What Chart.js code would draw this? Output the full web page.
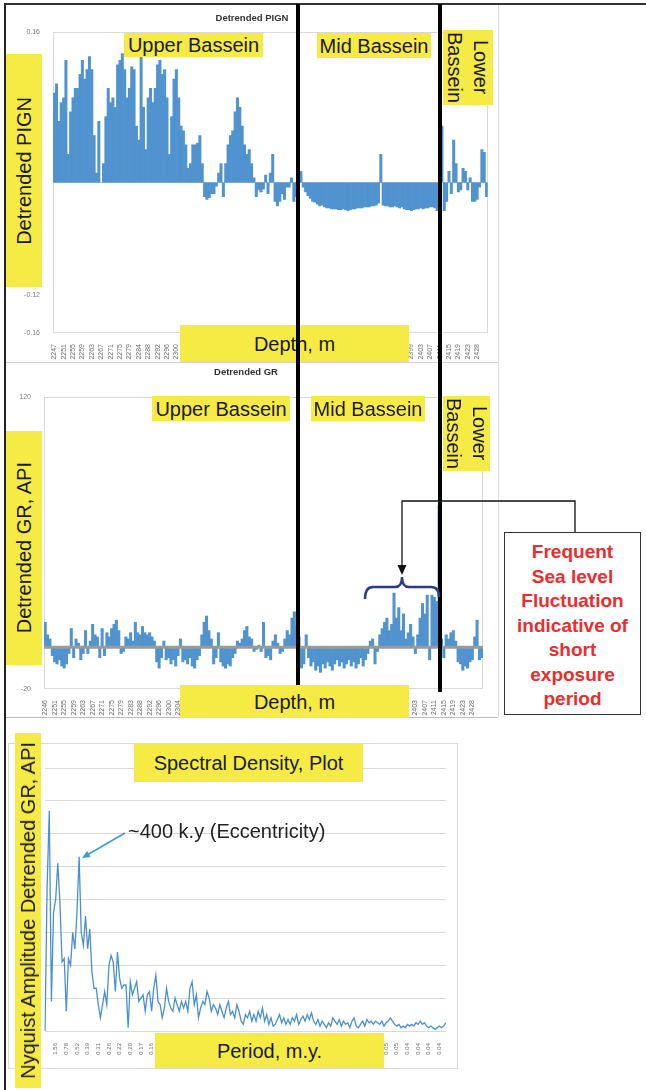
<!DOCTYPE html>
<html>
<head>
<meta charset="utf-8">
<script src="https://cdn.jsdelivr.net/npm/chart.js@4.4.1/dist/chart.umd.min.js"></script>
<style>
body{margin:0;background:#fff;font-family:"Liberation Sans",Arial,sans-serif;}
#page{position:relative;width:646px;height:1090px;overflow:hidden;background:#fff;}
#page canvas{position:absolute;}
.ln{position:absolute;}
.yl{position:absolute;background:#f6eb45;color:#1a1a1a;font-size:20px;line-height:1;display:flex;align-items:center;justify-content:center;white-space:nowrap;}
.up{writing-mode:vertical-rl;transform:rotate(180deg);}
.down{writing-mode:vertical-rl;line-height:26px;text-align:center;}
.ttl{position:absolute;font-size:9.5px;font-weight:bold;color:#333;text-align:center;white-space:nowrap;}
#note{position:absolute;left:504px;top:532px;width:137px;height:183px;border:1.5px solid #333;background:#fff;color:#ee2c2c;font-weight:bold;font-size:19px;line-height:24.5px;text-align:center;padding-top:7px;box-sizing:border-box;}
</style>
</head>
<body>
<div id="page">
  <!-- frames -->
  <div class="ln" style="left:5px;top:3px;width:641px;height:2px;background:#333"></div>
  <div class="ln" style="left:4px;top:3px;width:2px;height:1087px;background:#222"></div>
  <div class="ln" style="left:498px;top:5px;width:1px;height:712px;background:#dcdcdc"></div>
  <div class="ln" style="left:6px;top:362px;width:492px;height:1px;background:#d0d0d0"></div>
  <div class="ln" style="left:6px;top:717px;width:492px;height:1px;background:#bdbdbd"></div>
  <div class="ln" style="left:8px;top:743px;width:448px;height:324px;border:1px solid #d9d9d9"></div>

  <canvas id="pign" width="493" height="358" style="left:5px;top:4px"></canvas>
  <canvas id="gr" width="493" height="355" style="left:5px;top:362px"></canvas>
  <canvas id="spec" width="449" height="325" style="left:8px;top:743px"></canvas>

  <div class="ttl" style="left:192px;top:12px;width:120px">Detrended PIGN</div>
  <div class="ttl" style="left:186px;top:366px;width:120px">Detrended GR</div>

  <!-- panel 1 labels -->
  <div class="yl" style="left:124px;top:33px;width:139px;height:24px">Upper Bassein</div>
  <div class="yl" style="left:317px;top:33px;width:114px;height:25px">Mid Bassein</div>
  <div class="yl" style="left:443px;top:30px;width:50px;height:75px"><span class="down">Lower<br>Bassein</span></div>
  <div class="yl" style="left:6px;top:54px;width:36px;height:233px"><span class="up">Detrended PIGN</span></div>
  <div class="yl" style="left:180px;top:325px;width:229px;height:37px">Depth, m</div>

  <!-- divider lines -->
  <div class="ln" style="left:296px;top:4px;width:4px;height:708px;background:#000"></div>
  <div class="ln" style="left:438px;top:4px;width:4px;height:688px;background:#000"></div>

  <!-- panel 2 labels -->
  <div class="yl" style="left:152px;top:396px;width:138px;height:25px">Upper Bassein</div>
  <div class="yl" style="left:311px;top:396px;width:114px;height:25px">Mid Bassein</div>
  <div class="yl" style="left:443px;top:396px;width:47px;height:75px"><span class="down">Lower<br>Bassein</span></div>
  <div class="yl" style="left:6px;top:431px;width:36px;height:234px"><span class="up">Detrended GR, API</span></div>
  <div class="yl" style="left:180px;top:685px;width:229px;height:33px">Depth, m</div>

  <svg class="ln" style="left:0;top:0" width="646" height="1090">
    <polyline points="575,532 575,501 402,501 402,566" fill="none" stroke="#111" stroke-width="1.3"/>
    <polygon points="397.5,565 406.5,565 402,575" fill="#111"/>
    <path d="M365,599 Q365,587 373,587 L395,587 Q402,587 402,577 Q402,587 409,587 L431,587 Q439,587 439,597" fill="none" stroke="#2b3a8c" stroke-width="2.5"/>
    <line x1="125" y1="833" x2="88" y2="854.5" stroke="#3d9ad9" stroke-width="1.5"/>
    <polygon points="82,858 90.7,857 87.1,851" fill="#3d9ad9"/>
  </svg>
  <div id="note">Frequent<br>Sea level<br>Fluctuation<br>indicative of<br>short<br>exposure<br>period</div>

  <!-- panel 3 labels -->
  <div class="yl" style="left:134px;top:744px;width:229px;height:38px">Spectral Density, Plot</div>
  <div class="yl" style="left:15px;top:733px;width:26px;height:355px"><span class="up">Nyquist Amplitude Detrended GR, API</span></div>
  <div class="yl" style="left:155px;top:1033px;width:229px;height:35px">Period, m.y.</div>
  <div class="ln" style="left:128px;top:820px;font-size:20px;line-height:22px;color:#222;white-space:nowrap">~400 k.y (Eccentricity)</div>
</div>

<script>
// depth tick labels (one every 4 samples)
const pignTicks = ['2247','2251','2255','2259','2263','2267','2271','2275','2279','2284','2288','2292','2296','2300','2304','2308','2312','2316','2320','2324','2328','2331','2335','2339','2343','2347','2351','2355','2359','2363','2367','2371','2375','2379','2383','2387','2391','2395','2399','2403','2407','2411','2415','2419','2423','2428'];
const grTicks = ['2246','2251','2255','2259','2263','2267','2271','2275','2279','2283','2288','2292','2296','2300','2304','2308','2312','2316','2320','2324','2328','2332','2336','2340','2344','2348','2352','2356','2360','2364','2368','2372','2376','2380','2384','2388','2392','2395','2399','2403','2407','2411','2415','2419','2423','2428'];
const samplesPerTick = 4;

// detrended PIGN
const pignValues = [
  0.095,0.105,0.065,0.085,0.09,0.13,0.03,0.075,0.09,0.1,
  0.1,0.115,0.13,0.11,0.12,0.134,0.12,0.05,0.01,0.065,
  0.0,0.02,0.07,0.1,0.085,0.09,0.08,0.125,0.13,0.137,
  0.12,0.09,0.1,0.123,0.12,0.06,0.045,0.137,0.08,0.035,
  0.09,0.1,0.085,0.1,0.125,0.13,0.115,0.12,0.09,0.03,
  0.07,0.11,0.12,0.09,0.06,0.055,0.04,0.015,0.02,0.04,
  0.04,0.042,0.05,0.02,-0.015,-0.018,-0.016,-0.012,-0.012,-0.004,
  0.01,0.02,-0.015,0.02,0.04,0.05,0.055,0.075,0.09,0.08,
  0.06,0.04,0.03,0.035,0.02,0.005,-0.015,-0.008,-0.01,-0.007,
  0.008,-0.012,0.01,0.03,-0.02,-0.025,-0.02,-0.012,-0.018,-0.005,
  -0.005,0.005,-0.02,-0.015,0.004,0.012,-0.005,-0.01,-0.014,-0.017,
  -0.02,-0.021,-0.023,-0.025,-0.024,-0.026,-0.027,-0.027,-0.028,-0.028,
  -0.028,-0.029,-0.029,-0.028,-0.029,-0.03,-0.029,-0.028,-0.028,-0.027,
  -0.027,-0.027,-0.026,-0.026,-0.026,-0.025,-0.025,-0.024,-0.022,0.03,
  -0.024,-0.025,-0.025,-0.026,-0.026,-0.025,-0.026,-0.027,-0.026,-0.028,
  -0.029,-0.029,-0.03,-0.029,-0.028,-0.028,-0.027,-0.028,-0.027,-0.027,
  -0.026,-0.026,-0.027,-0.03,-0.01,0.06,-0.03,-0.02,0.012,-0.012,
  0.045,0.02,-0.01,-0.008,0.015,0.012,-0.008,0.005,-0.02,-0.02,
  -0.018,-0.005,0.035,0.032,-0.015
];

// detrended GR, API
const grValues = [
  12,6,4,-4,-7,-8,-6,-9,-10,-8,
  -3,9,-5,4,2,-6,-3,8,-3,3,
  11,6,5,-5,9,-4,7,5,9,11,
  13,8,-3,-2,5,4,7,3,12,7,
  6,10,7,6,7,5,3,-7,-10,-5,
  3,-6,-5,-8,-6,-9,-4,4,-7,-6,
  -8,-5,-9,-10,-6,-4,6,12,15,8,
  4,-8,-5,7,-7,-9,-10,-8,-9,-5,
  -3,3,2,4,8,10,5,4,-2,-1,
  1,-2,12,-5,-4,-6,3,6,2,-3,
  -2,4,8,6,14,17,10,5,-10,-8,
  6,-5,-9,-7,-11,-9,-12,-8,-10,-7,
  -9,-11,-8,-6,-9,-7,-10,-8,-6,-9,
  -7,-10,-8,-5,-9,-6,-3,3,4,-8,
  -2,6,9,12,14,8,11,26,14,19,
  8,16,4,7,11,5,-3,6,14,21,
  16,25,-6,25,24,22,68,4,-5,6,
  4,7,8,3,-7,-8,-11,-9,-10,-7,
  -6,5,13,-6,-5
];

// spectral density: period tick labels (one every 5 samples, from sample 5)
const periodTicks = ['1.56','0.78','0.52','0.39','0.31','0.26','0.22','0.20','0.17','0.16','0.14','0.13','0.12','0.11','0.10','0.10','0.09','0.09','0.08','0.08','0.07','0.07','0.07','0.07','0.06','0.06','0.06','0.06','0.05','0.05','0.05','0.05','0.05','0.04','0.04','0.04','0.04'];
const samplesPerPeriodTick = 5;
const specValues = [
  0,4.4,6.7,0.9,3.6,4.0,5.1,3.9,2.1,2.2,
  0.6,2.2,2.0,3.0,2.5,3.6,5.3,3.0,2.6,3.5,
  2.5,3.1,1.8,1.3,1.3,0.8,0.4,0.8,1.2,0.8,
  2.0,2.3,2.1,1.2,2.4,1.6,1.3,1.4,1.4,0.1,
  1.5,1.1,1.3,1.5,0.9,1.0,1.1,0.6,1.1,1.2,
  0.6,1.3,1.7,0.9,0.8,0.4,0.7,1.3,0.9,0.7,
  0.6,1.0,0.8,0.6,0.9,0.7,0.9,0.6,1.3,1.5,
  0.8,1.1,0.4,0.7,0.9,0.8,1.2,1.0,0.6,0.8,
  0.7,0.5,0.8,0.6,0.4,0.7,0.9,0.5,0.6,0.4,
  0.8,0.6,0.3,0.2,0.5,0.4,0.6,0.3,0.5,0.3,
  0.6,0.4,0.7,0.3,0.5,0.2,0.4,0.15,0.2,0.35,
  0.5,0.25,0.4,0.2,0.35,0.2,0.4,0.3,0.5,0.2,
  0.35,0.45,0.3,0.5,0.35,0.55,0.3,0.2,0.35,0.15,
  0.3,0.2,0.1,0.25,0.15,0.4,0.3,0.2,0.35,0.15,
  0.3,0.2,0.25,0.1,0.3,0.4,0.15,0.1,0.2,0.3,
  0.15,0.35,0.25,0.3,0.2,0.3,0.25,0.2,0.3,0.15,
  0.25,0.3,0.4,0.3,0.2,0.15,0.2,0.1,0.15,0.1,
  0.2,0.15,0.2,0.15,0.25,0.2,0.3,0.2,0.25,0.15,
  0.1,0.15,0.1,0.05,0.1,0.15,0.1,0.15,0.25
];

Chart.defaults.font.family = '"Liberation Sans", Arial, sans-serif';
Chart.defaults.animation = false;

const depthLabels = (vals, ticks) => vals.map((v, i) => i % samplesPerTick === 0 ? (ticks[i / samplesPerTick] || '') : '');
const periodLabels = specValues.map((v, i) => (i % samplesPerPeriodTick === 0 && i > 0) ? (periodTicks[i / samplesPerPeriodTick - 1] || '') : '');

const frame = {
  id: 'frame',
  beforeDatasetsDraw(c) {
    const a = c.chartArea, g = c.ctx;
    g.save();
    g.strokeStyle = '#d9d9d9';
    g.lineWidth = 1;
    g.strokeRect(Math.round(a.left) + 0.5, Math.round(a.top) + 0.5, Math.round(a.right - a.left) - 1, Math.round(a.bottom - a.top) - 1);
    g.restore();
  }
};

const zeroLine = {
  id: 'zeroLine',
  afterDatasetsDraw(c) {
    const a = c.chartArea, g = c.ctx, y = c.scales.y.getPixelForValue(0);
    g.save();
    g.strokeStyle = '#9a9a9a';
    g.lineWidth = 3;
    g.beginPath(); g.moveTo(a.left, y); g.lineTo(a.right, y); g.stroke();
    g.restore();
  }
};

function depthChart(id, labels, values, yOpts, dims, extra) {
  return new Chart(document.getElementById(id), {
    type: 'bar',
    data: { labels: labels, datasets: [{ data: values, backgroundColor: '#5093cf', borderWidth: 0, barPercentage: 1, categoryPercentage: 1 }] },
    options: {
      responsive: false,
      layout: { padding: { top: dims.top, right: dims.right, left: 0, bottom: 0 } },
      plugins: { legend: { display: false }, tooltip: { enabled: false } },
      scales: {
        x: {
          grid: { display: false }, border: { display: false },
          ticks: { autoSkip: false, maxRotation: 90, minRotation: 90, font: { size: 7 }, color: '#6b6b6b', padding: 3 },
          afterFit(s) { s.height = dims.xh; }
        },
        y: Object.assign({
          grid: { display: false }, border: { display: false },
          afterFit(s) { s.width = dims.yw; }
        }, yOpts)
      }
    },
    plugins: [frame].concat(extra || [])
  });
}

depthChart('pign', depthLabels(pignValues, pignTicks), pignValues, {
  min: -0.16, max: 0.16,
  ticks: { stepSize: 0.04, font: { size: 7 }, color: '#7a7a7a', padding: 5,
    callback: v => Math.abs(v) < 1e-9 ? '0' : v.toFixed(2) }
}, { top: 28, right: 8, xh: 29, yw: 48 });

depthChart('gr', depthLabels(grValues, grTicks), grValues, {
  min: -20, max: 120,
  ticks: { stepSize: 20, font: { size: 7 }, color: '#7a7a7a', padding: 5 }
}, { top: 35, right: 15, xh: 28, yw: 39 }, [zeroLine]);

new Chart(document.getElementById('spec'), {
  type: 'line',
  data: { labels: periodLabels, datasets: [{ data: specValues, borderColor: '#4a90d0', borderWidth: 1.3, pointRadius: 0, tension: 0, fill: false }] },
  options: {
    responsive: false,
    layout: { padding: { top: 25, right: 8, left: 0, bottom: 0 } },
    plugins: { legend: { display: false }, tooltip: { enabled: false } },
    scales: {
      x: {
        grid: { display: false }, border: { display: false },
        ticks: { autoSkip: false, maxRotation: 90, minRotation: 90, font: { size: 6 }, color: '#6b6b6b', padding: 4 },
        afterFit(s) { s.height = 37; }
      },
      y: {
        min: 0, max: 8,
        grid: { color: '#d9d9d9', drawTicks: false }, border: { display: false },
        ticks: { stepSize: 1, display: false },
        afterFit(s) { s.width = 37; }
      }
    }
  }
});
</script>
</body>
</html>
